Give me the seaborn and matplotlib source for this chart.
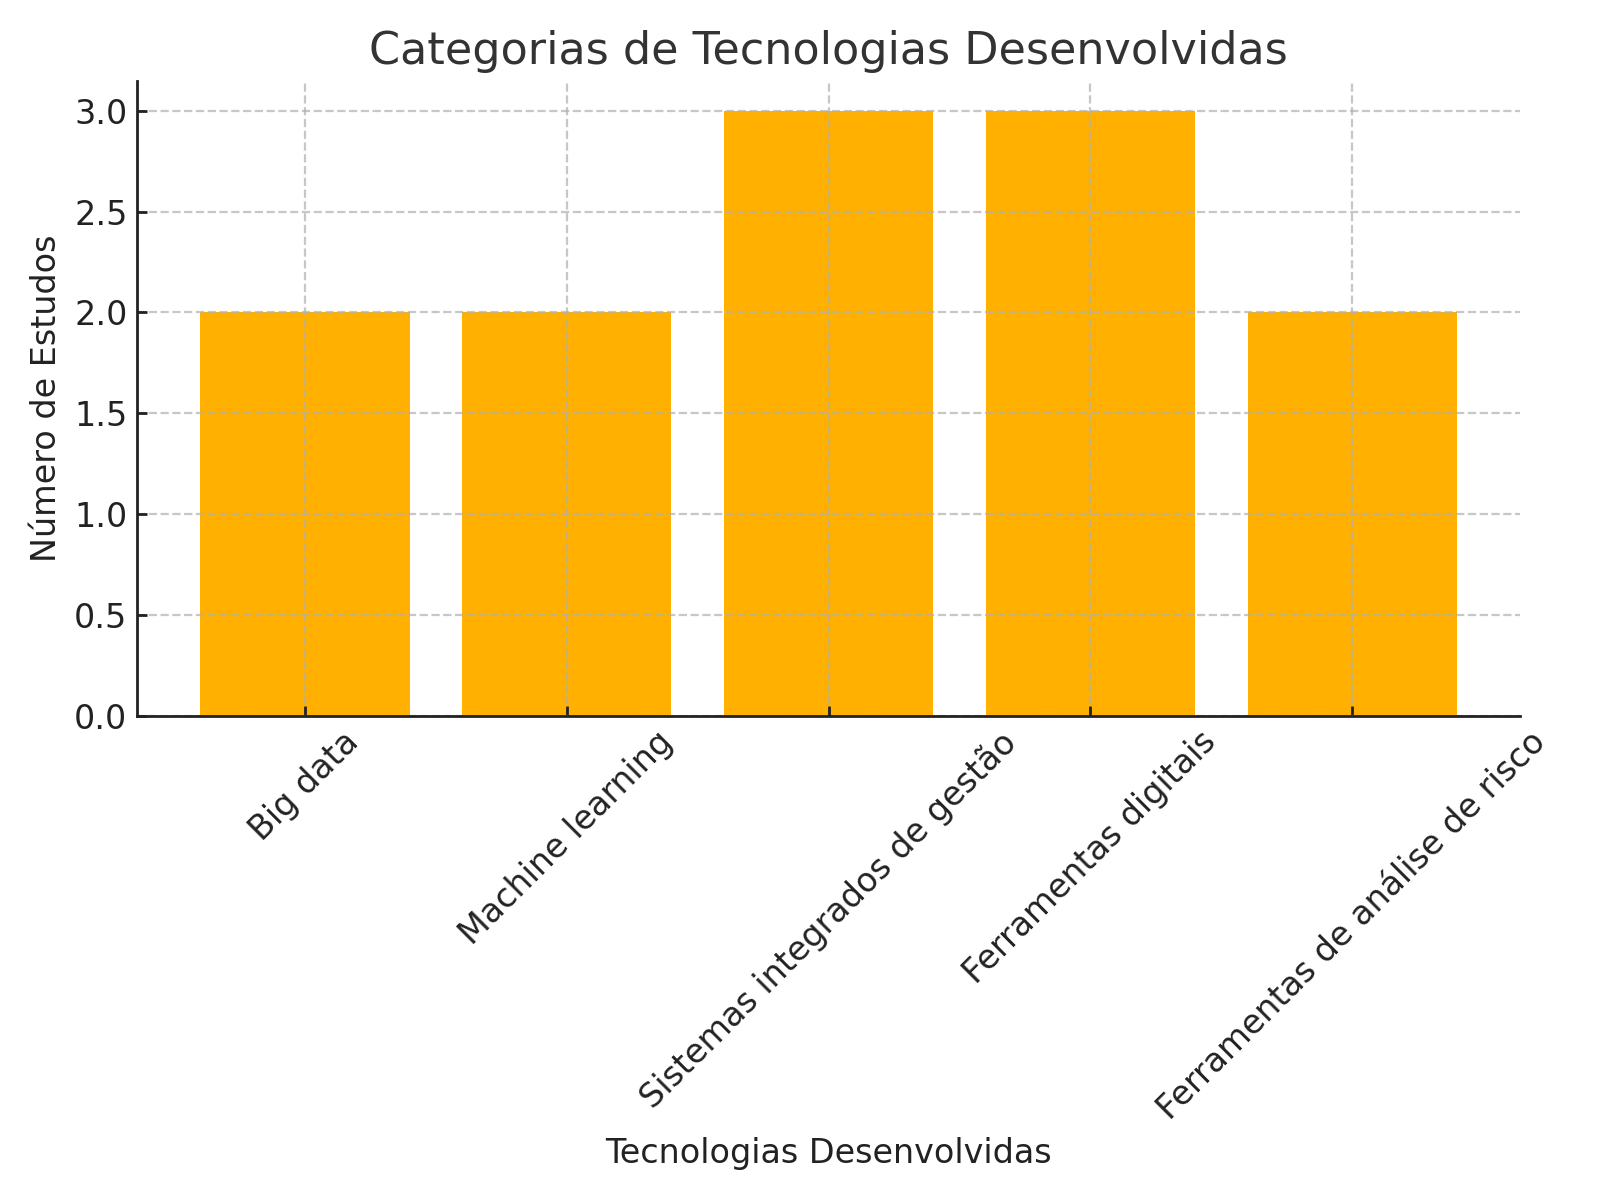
import matplotlib
matplotlib.use("Agg")
import matplotlib.pyplot as plt
import seaborn as sns
import pandas as pd

categories = ["Big data", "Machine learning", "Sistemas integrados de gestão",
              "Ferramentas digitais", "Ferramentas de análise de risco"]
values = [2, 2, 3, 3, 2]

df = pd.DataFrame({"Tecnologia": categories, "Estudos": values})

sns.set_style("ticks")
plt.rcParams['font.family'] = ['DejaVu Sans']
plt.rcParams['text.color'] = '#222222'
plt.rcParams['axes.labelcolor'] = '#222222'
plt.rcParams['xtick.color'] = '#222222'
plt.rcParams['ytick.color'] = '#222222'

fig, ax = plt.subplots(figsize=(8, 6), dpi=200)
sns.barplot(data=df, x="Tecnologia", y="Estudos", color="#FFB000",
            saturation=1, width=0.8, ax=ax, linewidth=0, edgecolor="none",
            zorder=1)
ax.set_xlim(-0.64, len(categories) - 1 + 0.64)
ax.set_ylim(0, 3.15)
ax.set_yticks([0, 0.5, 1.0, 1.5, 2.0, 2.5, 3.0])
ax.set_yticklabels([f"{v:.1f}" for v in [0, 0.5, 1.0, 1.5, 2.0, 2.5, 3.0]])
ax.set_axisbelow('line')
ax.grid(True, linestyle='--', color='#b0b0b0', alpha=0.7, linewidth=0.8)
ax.tick_params(direction='in', labelsize=12, length=3.5, width=1)
ax.set_title("Categorias de Tecnologias Desenvolvidas", fontsize=16, color='#333333')
ax.set_xlabel("Tecnologias Desenvolvidas", fontsize=12)
ax.set_ylabel("Número de Estudos", fontsize=12)
plt.setp(ax.get_xticklabels(), rotation=45)
for s in ['top', 'right']:
    ax.spines[s].set_visible(False)
for s in ['left', 'bottom']:
    ax.spines[s].set_color('#222222')
    ax.spines[s].set_linewidth(1.0)
    ax.spines[s].set_zorder(3)
plt.tight_layout()
fig.savefig("out.png", dpi=200)
